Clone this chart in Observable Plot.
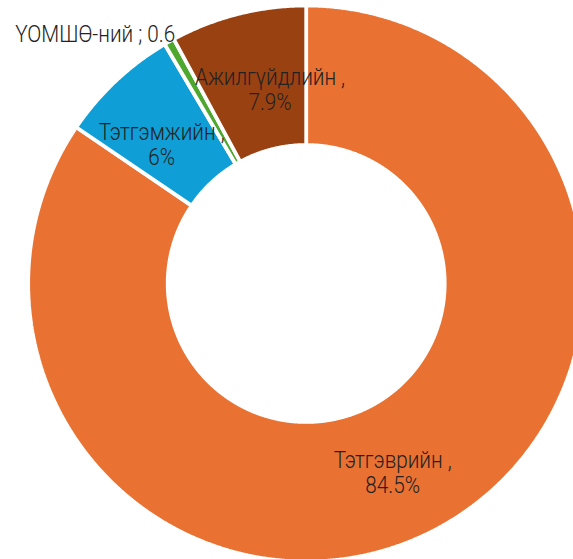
<!DOCTYPE html>
<html><head><meta charset="utf-8">
<script src="https://cdn.jsdelivr.net/npm/d3@7"></script>
<script src="https://cdn.jsdelivr.net/npm/@observablehq/plot@0.6"></script>
<style>
html,body{margin:0;padding:0;background:#fff;overflow:hidden}
</style>
</head><body><div id="chart"></div>
<script>
// ---- data ----
const categories = ["Тэтгэврийн", "Тэтгэмжийн", "ҮОМШӨ-ний", "Ажилгүйдлийн"];
const values = [84.5, 7.0, 0.6, 7.9];
const labels = ["Тэтгэврийн ,\n84.5%", "Тэтгэмжийн ,\n6%", "ҮОМШӨ-ний ; 0.6", "Ажилгүйдлийн ,\n7.9%"];
const colors = ["#E97132", "#0F9ED5", "#4EA72E", "#9A4112"];

// ---- layout ----
const W = 573, H = 559;
const cx = 305.7, cy = 283;       // donut centre in pixels
const R = 278, r = 138.5;          // outer / inner radius
const labelNudge = [[-11, 5], [-2, 13], [6, -8], [15, 8]];
const outsideLabel = [false, false, true, false];
const textScaleX = 0.9;            // narrow label face

const arcs = d3.pie().sort(null).value(d => d)(values);

const pts = [];
arcs.forEach((a, i) => {
  const cat = categories[i];
  const n = Math.max(2, Math.ceil((a.endAngle - a.startAngle) / 0.005));
  const ring = [];
  for (let k = 0; k <= n; k++) {
    const t = a.startAngle + (a.endAngle - a.startAngle) * k / n;
    ring.push({x: R * Math.sin(t), y: R * Math.cos(t), cat});
  }
  for (let k = n; k >= 0; k--) {
    const t = a.startAngle + (a.endAngle - a.startAngle) * k / n;
    ring.push({x: r * Math.sin(t), y: r * Math.cos(t), cat});
  }
  ring.push({...ring[0]});
  pts.push(...ring);
});

const labelMarks = arcs.map((a, i) => {
  const mid = (a.startAngle + a.endAngle) / 2;
  const rho = outsideLabel[i] ? R : (R + r) / 2;
  const d = [{x: rho * Math.sin(mid), y: rho * Math.cos(mid), text: labels[i]}];
  return Plot.text(d, {
    x: "x", y: "y", text: "text",
    dx: labelNudge[i][0], dy: labelNudge[i][1],
    textAnchor: outsideLabel[i] ? "end" : "middle",
    lineAnchor: "middle", lineHeight: 1.1,
    fontSize: 23, fontWeight: 300, fill: "#222",
    fontFamily: "Roboto"
  });
});

const chart = Plot.plot({
  width: W, height: H, margin: 0,
  style: {background: "#fff", fontFamily: "Roboto"},
  x: {domain: [-cx, W - cx], axis: null},
  y: {domain: [-(H - cy), cy], axis: null},
  color: {domain: categories, range: colors},
  marks: [
    Plot.line(pts, {x: "x", y: "y", z: "cat", fill: "cat", stroke: "white", strokeWidth: 3.75, curve: "linear", strokeLinejoin: "miter"}),
    ...labelMarks
  ]
});
// narrow the label glyphs horizontally about their anchor
chart.querySelectorAll("text").forEach(t => {
  const tr = t.getAttribute("transform") || "";
  t.setAttribute("transform", (tr + ` scale(${textScaleX},1)`).trim());
});
document.getElementById("chart").appendChild(chart);
</script>
</body></html>
